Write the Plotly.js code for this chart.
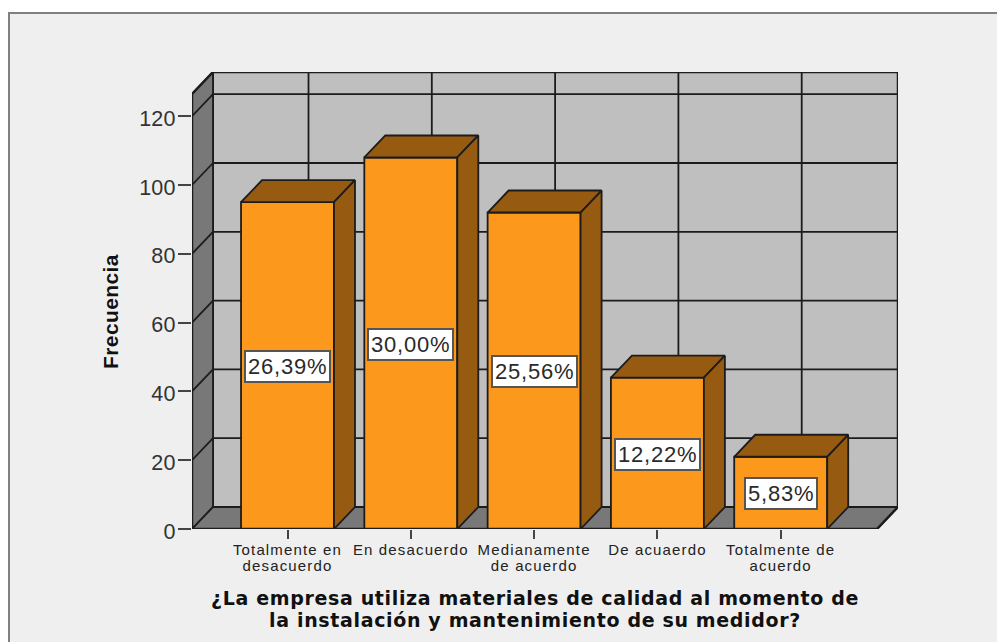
<!DOCTYPE html>
<html>
<head>
<meta charset="utf-8">
<script src="https://cdn.plot.ly/plotly-3.0.1.min.js"></script>
<style>
html,body{margin:0;padding:0;background:#fff;overflow:hidden}
.xtick text{letter-spacing:1.15px}
.ytick text{letter-spacing:0.2px}
.xtitle{letter-spacing:0.65px}
.ytitle{letter-spacing:0.4px}
.annotation-text{letter-spacing:0.8px}
</style>
</head>
<body>
<div id="chart" style="width:997px;height:642px"></div>
<script>
const categories = ["Totalmente en<br>desacuerdo","En desacuerdo","Medianamente<br>de acuerdo","De acuaerdo","Totalmente de<br>acuerdo"];
const positions = [1,2,3,4,5];
const frequencies = [95,108,92,44,21];
const percentLabels = ["26,39%","30,00%","25,56%","12,22%","5,83%"];
const yTicks = [0,20,40,60,80,100,120];
const xTitle = "¿La empresa utiliza materiales de calidad al momento de<br>la instalación y mantenimiento de su medidor?";
const yTitle = "Frecuencia";

const ORANGE="#FC991D", DARK="#965A10", WALL="#BFBFBF", SIDE="#787878", INK="#1c1c1c";
const pxX=123.3, pxY=3.44, plotTop=72, plotBottom=529, plotLeft=192, plotW=706, plotH=plotBottom-plotTop;
const barW=0.754, depthX=21/pxX, depthY=22/pxY;
const xMin=1.004-96/pxX, xMax=1.004+610/pxX, yMax=plotH/pxY, yFrontTop=yMax-depthY;
const poly=(pts,fill)=>({type:"path",xref:"x",yref:"y",layer:"below",fillcolor:fill,line:{color:INK,width:1.8},
  path:"M"+pts.map(p=>p[0]+" "+p[1]).join(" L")+" Z"});
const seg=(x0,y0,x1,y1)=>({type:"line",xref:"x",yref:"y",layer:"below",x0,y0,x1,y1,line:{color:INK,width:1.8}});

const shapes=[
 {type:"rect",xref:"paper",yref:"paper",layer:"below",
  x0:(9-plotLeft)/plotW,x1:(1020-plotLeft)/plotW,y0:(plotBottom-680)/plotH,y1:(plotBottom-13)/plotH,
  fillcolor:"#EFEFEF",line:{color:"#808080",width:2}},
 poly([[xMin+depthX,depthY],[xMax,depthY],[xMax,yMax],[xMin+depthX,yMax]],WALL),
 poly([[xMin,0],[xMin+depthX,depthY],[xMin+depthX,yMax],[xMin,yFrontTop]],SIDE),
 poly([[xMin,0],[xMax-depthX,0],[xMax,depthY],[xMin+depthX,depthY]],SIDE)
];
yTicks.slice(1).forEach(v=>{
  shapes.push(seg(xMin,v,xMin+depthX,v+depthY));
  shapes.push(seg(xMin+depthX,v+depthY,xMax,v+depthY));
});
positions.forEach(p=>shapes.push(seg(p+depthX,depthY,p+depthX,yMax)));

const traces=[{
  type:"bar",x:positions,y:frequencies,width:barW,
  marker:{color:ORANGE,line:{color:INK,width:1.8}},hoverinfo:"skip"
}];
frequencies.forEach((v,i)=>{
  const l=positions[i]-barW/2,r=positions[i]+barW/2;
  const outline={color:INK,width:1.8};
  traces.push({type:"scatter",mode:"lines",fill:"toself",fillcolor:DARK,line:outline,cliponaxis:false,hoverinfo:"skip",
    x:[l,r,r+depthX,l+depthX,l],y:[v,v,v+depthY,v+depthY,v]});
  traces.push({type:"scatter",mode:"lines",fill:"toself",fillcolor:DARK,line:outline,cliponaxis:false,hoverinfo:"skip",
    x:[r,r+depthX,r+depthX,r,r],y:[0,depthY,v+depthY,v,0]});
});
traces.push({type:"scatter",mode:"lines",cliponaxis:false,hoverinfo:"skip",line:{color:INK,width:2.5},
  x:[xMin,xMin,xMin+depthX,xMax,xMax,xMax-depthX,xMin],
  y:[0,yFrontTop,yMax,yMax,depthY,0,0]});

const annotations=frequencies.map((v,i)=>({
  x:positions[i],y:v/2,xref:"x",yref:"y",yshift:-1,text:percentLabels[i],showarrow:false,
  font:{family:"Liberation Sans",size:22,color:"#2a2a2a"},
  bgcolor:"#fff",bordercolor:"#555",borderwidth:2,borderpad:2
}));

const layout={
  width:997,height:642,autosize:false,showlegend:false,bargap:0,
  paper_bgcolor:"#fff",plot_bgcolor:"rgba(0,0,0,0)",
  margin:{l:plotLeft,r:997-plotLeft-plotW,t:plotTop,b:642-plotBottom,pad:0},
  font:{family:"Liberation Sans",color:"#222"},
  xaxis:{range:[xMin,xMax],tickmode:"array",tickvals:positions,ticktext:categories,tickangle:0,
    ticks:"outside",ticklen:9,tickwidth:2,tickcolor:"#444",showgrid:false,zeroline:false,showline:false,
    tickfont:{family:"Liberation Sans",size:15,color:"#222"},ticklabelstandoff:-2,
    automargin:false,
    title:{text:xTitle,standoff:16,font:{family:"DejaVu Sans",size:19,weight:"bold",color:"#111"}}},
  yaxis:{range:[0,yMax],tickmode:"array",tickvals:yTicks,ticktext:yTicks.map(String),
    ticks:"outside",ticklen:13,tickwidth:2,tickcolor:"#444",showgrid:false,zeroline:false,showline:false,
    tickfont:{family:"Liberation Sans",size:21.5,color:"#333"},ticklabelstandoff:-2,ticklabelshift:2,
    automargin:false,
    title:{text:yTitle,standoff:20,font:{family:"Liberation Sans",size:21,weight:"bold",color:"#111"}}},
  shapes,annotations
};
Plotly.newPlot("chart",traces,layout,{staticPlot:true,displayModeBar:false}).then(()=>{
  const tightenLines=(sel,em)=>document.querySelectorAll(sel+" tspan.line").forEach(t=>{
    if(parseFloat(t.getAttribute("dy"))>0)t.setAttribute("dy",em);
  });
  tightenLines(".xtick text","1.08em");
  tightenLines(".xtitle","1.16em");
  const nudge=(sel,dx,dy)=>{const el=document.querySelector(sel);
    el.setAttribute("transform","translate("+dx+","+dy+") "+(el.getAttribute("transform")||""));};
  nudge(".xtitle",-10,-1);
  nudge(".ytitle",6,11);
});
</script>
</body>
</html>
